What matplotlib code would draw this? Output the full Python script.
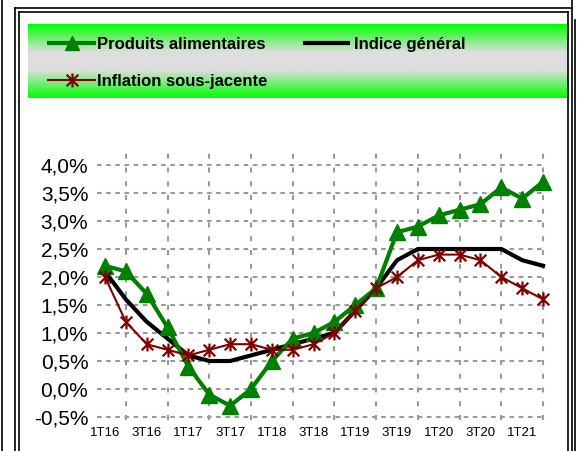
import matplotlib
matplotlib.use('Agg')
import matplotlib.pyplot as plt
import numpy as np
from matplotlib.path import Path
from matplotlib.ticker import FuncFormatter, FixedLocator

plt.rcParams['font.family'] = ['Liberation Sans', 'DejaVu Sans']

# ---------------- data ----------------
quarters = ['1T16', '2T16', '3T16', '4T16', '1T17', '2T17', '3T17', '4T17',
            '1T18', '2T18', '3T18', '4T18', '1T19', '2T19', '3T19', '4T19',
            '1T20', '2T20', '3T20', '4T20', '1T21', '2T21']
alimentaires = [2.2, 2.1, 1.7, 1.1, 0.4, -0.1, -0.3, 0.0, 0.5, 0.9, 1.0, 1.2,
                1.5, 1.8, 2.8, 2.9, 3.1, 3.2, 3.3, 3.6, 3.4, 3.7]
general = [2.1, 1.6, 1.2, 0.9, 0.6, 0.5, 0.5, 0.6, 0.7, 0.8, 0.9, 1.0,
           1.4, 1.8, 2.3, 2.5, 2.5, 2.5, 2.5, 2.5, 2.3, 2.2]
sous_jacente = [2.0, 1.2, 0.8, 0.7, 0.6, 0.7, 0.8, 0.8, 0.7, 0.7, 0.8, 1.0,
                1.4, 1.8, 2.0, 2.3, 2.4, 2.4, 2.3, 2.0, 1.8, 1.6]
series_names = ['Produits alimentaires', 'Indice général', 'Inflation sous-jacente']
y_ticks = [-0.5, 0.0, 0.5, 1.0, 1.5, 2.0, 2.5, 3.0, 3.5, 4.0]

GREEN = '#008000'
DARKRED = '#800000'
GRID = '#9a9a9a'

# asterisk marker (x + vertical bar)
star = Path([(-1, -1), (1, 1), (-1, 1), (1, -1), (0, -1.2), (0, 1.2)],
            [Path.MOVETO, Path.LINETO, Path.MOVETO, Path.LINETO, Path.MOVETO, Path.LINETO])

W, H = 577, 451
fig = plt.figure(figsize=(W / 100, H / 100), dpi=100)

# background / decoration axes in pixel coordinates
bg = fig.add_axes([0, 0, 1, 1], zorder=0)
bg.set_xlim(0, W)
bg.set_ylim(H, 0)
bg.axis('off')

# legend gradient box
stops_pos = [0.0, 0.38, 0.62, 1.0]
stops_col = np.array([[0, 255, 0], [222, 222, 222], [222, 222, 222], [0, 255, 0]]) / 255.0
yy = np.linspace(0, 1, 200)
grad = np.stack([np.interp(yy, stops_pos, stops_col[:, k]) for k in range(3)], axis=1)
grad = grad[:, None, :]
bg.imshow(grad, extent=(27.5, 568, 98, 24), aspect='auto', interpolation='bilinear', zorder=1)

# frame lines
blw = 1.2
bg.plot([1.5, 1.5], [0, H], color='black', lw=blw, zorder=3)
bg.plot([14.5, 14.5], [8, H], color='black', lw=blw, zorder=3)
bg.plot([18.5, 18.5], [12, H], color='black', lw=blw, zorder=3)
bg.plot([14.5, 571.5], [8, 8], color='black', lw=blw, zorder=3)
bg.plot([18.5, 568], [12, 12], color='black', lw=blw, zorder=3)
bg.plot([568, 568], [12, H], color='black', lw=blw, zorder=3)
bg.plot([571.5, 571.5], [0, H], color='black', lw=blw, zorder=3)
bg.plot([575, 575], [20, H], color='black', lw=blw, zorder=3)

# legend entries
bg.plot([47, 96], [43, 43], color=GREEN, lw=3, solid_capstyle='butt', zorder=4)
bg.plot([71.5], [43], marker='^', ms=10, color=GREEN, zorder=5)
bg.text(97, 49, series_names[0], fontsize=12, fontweight='bold', va='baseline', ha='left', zorder=5)
bg.plot([303, 350], [43, 43], color='black', lw=3, solid_capstyle='butt', zorder=4)
bg.text(354, 49, series_names[1], fontsize=12, fontweight='bold', va='baseline', ha='left', zorder=5)
bg.plot([47, 96], [80, 80], color=DARKRED, lw=1.5, solid_capstyle='butt', zorder=4)
bg.plot([71.5], [80], marker=star, ms=10, mew=1.6, color=DARKRED, zorder=5)
bg.text(97, 86.3, series_names[2], fontsize=12, fontweight='bold', va='baseline', ha='left', zorder=5)

# ---------------- main chart ----------------
x0, dx = 105.0, 20.86
def xpix(v):
    return x0 + v * dx
def ypix(v):
    return 165 + (4.0 - v) * 56

xl = (-0.4, 21.1)
yl = (-0.55, 4.3)
left = xpix(xl[0]); right = xpix(xl[1])
top = ypix(yl[1]); bottom = ypix(yl[0])
ax = fig.add_axes([left / W, (H - bottom) / H, (right - left) / W, (bottom - top) / H], zorder=2)
ax.set_facecolor('none')
ax.set_xlim(*xl)
ax.set_ylim(*yl)

x = np.arange(len(quarters))
ax.plot(x, general, color='black', lw=3, solid_joinstyle='round', zorder=3, clip_on=False)
ax.plot(x, alimentaires, color=GREEN, lw=3, marker='^', ms=11, zorder=4, clip_on=False)
ax.plot(x, sous_jacente, color=DARKRED, lw=1.5, marker=star, ms=10, mew=1.6, zorder=5, clip_on=False)

for s in ax.spines.values():
    s.set_visible(False)

ax.xaxis.set_major_locator(FixedLocator(list(x[::2])))
ax.set_xticklabels(quarters[::2])
ax.xaxis.set_minor_locator(FixedLocator(list(x)))
ax.set_yticks(y_ticks)
ax.yaxis.set_major_formatter(FuncFormatter(lambda v, p: f'{v:.1f}%'.replace('.', ',')))
ax.tick_params(axis='x', which='both', length=0, pad=5.5, labelsize=9.5, colors='black')
ax.tick_params(axis='y', length=0, pad=6, labelsize=15, colors='black')

ax.grid(True, axis='y', which='major', color=GRID, lw=1.5, linestyle=(0, (2.2, 2.2)), zorder=0)
ax.grid(True, axis='x', which='minor', color=GRID, lw=1.5, linestyle=(0, (2.4, 4.2)), zorder=0)
ax.grid(False, axis='x', which='major')
ax.set_axisbelow(True)

fig.savefig('out.png', dpi=100)
